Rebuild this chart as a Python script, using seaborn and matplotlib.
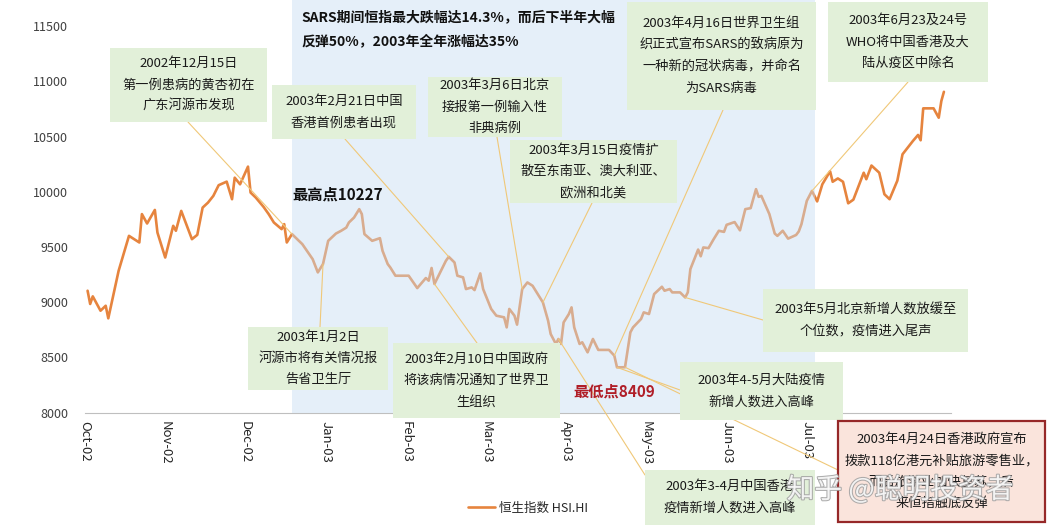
import matplotlib
matplotlib.use("Agg")
import matplotlib.pyplot as plt
import matplotlib.patheffects as pe
from matplotlib.patches import Rectangle, ConnectionPatch
import pandas as pd
import seaborn as sns

# Hang Seng index, Oct 2002 - Aug 2003
dates = [
    "2002-10-02", "2002-10-03", "2002-10-04", "2002-10-07", "2002-10-09", "2002-10-10",
    "2002-10-14", "2002-10-18", "2002-10-22", "2002-10-23", "2002-10-25", "2002-10-28",
    "2002-10-29",
    "2002-11-01", "2002-11-04", "2002-11-05", "2002-11-07", "2002-11-11", "2002-11-13",
    "2002-11-15", "2002-11-17", "2002-11-19", "2002-11-21", "2002-11-24", "2002-11-26",
    "2002-11-27", "2002-11-29",
    "2002-12-02", "2002-12-03", "2002-12-05", "2002-12-08", "2002-12-10", "2002-12-12",
    "2002-12-15", "2002-12-16", "2002-12-17", "2002-12-19", "2002-12-23", "2002-12-27",
    "2002-12-29", "2002-12-31",
    "2003-01-02", "2003-01-05", "2003-01-07", "2003-01-09", "2003-01-10", "2003-01-12",
    "2003-01-14", "2003-01-15", "2003-01-16", "2003-01-19", "2003-01-22", "2003-01-23",
    "2003-01-25", "2003-01-26", "2003-01-28",
    "2003-02-02", "2003-02-05", "2003-02-08", "2003-02-09", "2003-02-10", "2003-02-11",
    "2003-02-13", "2003-02-15", "2003-02-16", "2003-02-18", "2003-02-19", "2003-02-21",
    "2003-02-22", "2003-02-24", "2003-02-25", "2003-02-27", "2003-02-28",
    "2003-03-03", "2003-03-05", "2003-03-08", "2003-03-09", "2003-03-10", "2003-03-12",
    "2003-03-13", "2003-03-15", "2003-03-17", "2003-03-19", "2003-03-21", "2003-03-23",
    "2003-03-25", "2003-03-26", "2003-03-28", "2003-03-29", "2003-03-30", "2003-03-31",
    "2003-04-02", "2003-04-03", "2003-04-04", "2003-04-06", "2003-04-07", "2003-04-09",
    "2003-04-11", "2003-04-13", "2003-04-17", "2003-04-19", "2003-04-20", "2003-04-23",
    "2003-04-25", "2003-04-26", "2003-04-29", "2003-04-30",
    "2003-05-02", "2003-05-04", "2003-05-07", "2003-05-08", "2003-05-10", "2003-05-11",
    "2003-05-14", "2003-05-16", "2003-05-17", "2003-05-18", "2003-05-21", "2003-05-22",
    "2003-05-23", "2003-05-25", "2003-05-27", "2003-05-29", "2003-05-31",
    "2003-06-01", "2003-06-04", "2003-06-06", "2003-06-08", "2003-06-10", "2003-06-12",
    "2003-06-13", "2003-06-14", "2003-06-17", "2003-06-19", "2003-06-20", "2003-06-22",
    "2003-06-24", "2003-06-27", "2003-06-28", "2003-06-29",
    "2003-07-01", "2003-07-03", "2003-07-05", "2003-07-07", "2003-07-10", "2003-07-11",
    "2003-07-13", "2003-07-15", "2003-07-17", "2003-07-19", "2003-07-23", "2003-07-24",
    "2003-07-26", "2003-07-29", "2003-07-31",
    "2003-08-02", "2003-08-05", "2003-08-07", "2003-08-11", "2003-08-13", "2003-08-14",
    "2003-08-15", "2003-08-19", "2003-08-21", "2003-08-22", "2003-08-23",
]
hsi = [
    9103, 8983, 9052, 8922, 8967, 8853, 9284, 9600, 9540, 9797, 9712, 9835, 9630,
    9404, 9691, 9646, 9826, 9570, 9609, 9856, 9901, 9962, 10059, 10091, 9932, 10127, 10067,
    10227, 9992, 9947, 9863, 9797, 9721, 9661, 9706, 9540, 9616, 9525, 9389, 9269, 9345,
    9555, 9621, 9646, 9675, 9721, 9766, 9842, 9797, 9616, 9555, 9579, 9465, 9345, 9314, 9239,
    9239, 9127, 9218, 9194, 9309, 9164, 9269, 9374, 9410, 9359, 9239, 9224, 9118, 9133,
    9109, 9260, 9118,
    8938, 8877, 8862, 8771, 8938, 8877, 8796, 9118, 9178, 9148, 9073, 8997, 8832, 8711,
    8621, 8666, 8621, 8816,
    8892, 8952, 8771, 8621, 8636, 8545, 8666, 8567, 8567, 8515, 8409, 8410, 8726, 8771,
    8847, 8907,
    8892, 9073, 9139, 9103, 9118, 9088, 9088, 9042, 9088, 9299, 9476, 9415, 9495, 9489,
    9570, 9646, 9636,
    9700, 9725, 9650, 9842, 9851, 10023, 9953, 9962, 9797, 9621, 9600, 9646, 9575, 9608,
    9640, 9706,
    9917, 10007, 9912, 10067, 10185, 10090, 10120, 10090, 9895, 9928, 10172, 10113, 10237,
    10172, 9977,
    9932, 10100, 10339, 10459, 10514, 10466, 10755, 10755, 10670, 10821, 10905,
]
# the Aug-03 label sits under the red box in the original, so it is left out
month_labels = ["Oct-02", "Nov-02", "Dec-02", "Jan-03", "Feb-03", "Mar-03",
                "Apr-03", "May-03", "Jun-03", "Jul-03"]
y_ticks = [8000, 8500, 9000, 9500, 10000, 10500, 11000, 11500]
sars_window = ("2002-12-19", "2003-07-04")

# annotation texts, box (left, top, right, bottom in px), leader start px, anchor date
notes = [
    ("2002年12月15日\n第一例患病的黄杏初在\n广东河源市发现",
     (110, 48, 267, 122), (188, 122), "2002-12-19"),
    ("2003年2月21日中国\n香港首例患者出现",
     (272, 85, 416, 139), (345, 139), "2003-02-16"),
    ("2003年3月6日北京\n接报第一例输入性\n非典病例",
     (428, 77, 562, 137), (497, 137), "2003-03-15"),
    ("2003年3月15日疫情扩\n散至东南亚、澳大利亚、\n欧洲和北美",
     (510, 140, 677, 203), (592, 203), "2003-03-23"),
    ("2003年4月16日世界卫生组\n织正式宣布SARS的致病原为\n一种新的冠状病毒，并命名\n为SARS病毒",
     (627, 2, 816, 110), (723, 110), "2003-04-19"),
    ("2003年6月23及24号\nWHO将中国香港及大\n陆从疫区中除名",
     (828, 2, 988, 82), (908, 82), "2003-07-03"),
    ("2003年1月2日\n河源市将有关情况报\n告省卫生厅",
     (248, 327, 388, 390), (320, 327), "2002-12-31"),
    ("2003年2月10日中国政府\n将该病情况通知了世界卫\n生组织",
     (393, 343, 560, 418), (477, 343), "2003-02-11"),
    ("2003年5月北京新增人数放缓至\n个位数，疫情进入尾声",
     (763, 289, 968, 352), (763, 320), "2003-05-16"),
    ("2003年4-5月大陆疫情\n新增人数进入高峰",
     (680, 362, 843, 420), (680, 390), "2003-04-20"),
    ("2003年3-4月中国香港\n疫情新增人数进入高峰",
     (645, 470, 815, 525), (645, 475), "2003-03-29"),
]
red_note = ("2003年4月24日香港政府宣布\n拨款118亿港元补贴旅游零售业，\n而后旅游业加快复苏，后\n来恒指触底反弹",
            (838, 421, 1045, 522), (838, 470), "2003-04-23")

W, H = 1054, 531
LINE_C = "#E6843E"
GREEN = "#E2F0D9"
LEADER = "#F0C878"

sns.set_style("white")
plt.rcParams["font.family"] = ["Noto Sans CJK SC", "DejaVu Sans"]


def month_pos(d):
    # evenly spaced months, like the category axis of the original
    d = pd.DatetimeIndex(pd.to_datetime(d if isinstance(d, (list, pd.Series)) else [d]))
    pos = (d.year - 2002) * 12 + d.month - 10 + (d.day - 1) / d.days_in_month
    return pos.to_numpy() if len(pos) > 1 else float(pos[0])


df = pd.DataFrame({"date": pd.to_datetime(dates), "hsi": hsi})
df["pos"] = month_pos(df["date"])
lookup = dict(zip(df["date"], df["hsi"]))

fig = plt.figure(figsize=(W / 100, H / 100), dpi=100)
ax = fig.add_axes([85 / W, (H - 412.5) / H, 866 / W, 412.5 / H])

sns.lineplot(data=df, x="pos", y="hsi", color=LINE_C, linewidth=1.9,
             label="恒生指数 HSI.HI", ax=ax, zorder=2)

# translucent shading drawn over the line, which mutes it inside the window
ax.axvspan(month_pos(sars_window[0]), month_pos(sars_window[1]),
           color="#C7DDF3", alpha=0.45, lw=0, zorder=3)

ax.set_xlim(0, 866 / 80.2)
ax.set_ylim(8000, 8000 + 412.5 / 0.1104)
ax.set_xticks(range(len(month_labels)))
ax.set_xticklabels(month_labels, rotation=-90, fontsize=9.5, color="#262626")
ax.set_yticks(y_ticks)
ax.set_yticklabels([str(v) for v in y_ticks], fontsize=9, color="#404040")
ax.tick_params(axis="y", length=0, pad=12)
ax.tick_params(axis="x", length=3, width=0.8, color="#BFBFBF", pad=3)
ax.set_xlabel("")
ax.set_ylabel("")
for s in ["top", "right", "left"]:
    ax.spines[s].set_visible(False)
ax.spines["bottom"].set_color("#BFBFBF")
ax.spines["bottom"].set_linewidth(0.8)

leg = ax.legend(loc="center", bbox_to_anchor=(528 / W, 1 - 508 / H),
                bbox_transform=fig.transFigure, frameon=False, fontsize=9,
                handlelength=2.2, handletextpad=0.3)


def draw_note(text, box, start, anchor, fc, ec=None, lw=0):
    x0, y0, x1, y1 = box
    cp = ConnectionPatch(xyA=(start[0], H - start[1]), coordsA="figure pixels",
                         xyB=(month_pos(anchor), lookup[pd.Timestamp(anchor)]),
                         coordsB="data", axesB=ax, color=LEADER, lw=0.8, zorder=1)
    fig.add_artist(cp)
    fig.add_artist(Rectangle((x0 / W, 1 - y1 / H), (x1 - x0) / W, (y1 - y0) / H,
                             transform=fig.transFigure, fc=fc,
                             ec=ec if ec else "none", lw=lw, zorder=2))
    fig.text((x0 + x1) / 2 / W, 1 - (y0 + y1) / 2 / H, text, ha="center",
             va="center", ma="center", fontsize=9.5, color="#1A1A1A",
             linespacing=1.85, zorder=3)


for text, box, start, anchor in notes:
    draw_note(text, box, start, anchor, GREEN)
draw_note(*red_note, fc="#FAE4DC", ec="#962828", lw=1.6)

fig.text(301 / W, 1 - 29.5 / H,
         "SARS期间恒指最大跌幅达14.3%，而后下半年大幅\n反弹50%，2003年全年涨幅达35%",
         ha="left", va="center", ma="left", fontsize=10, fontweight="bold",
         color="#111111", linespacing=1.9, zorder=3)
fig.text(292 / W, 1 - 195 / H, "最高点10227", ha="left", va="center",
         fontsize=11, fontweight="bold", color="#111111", zorder=3)
fig.text(573 / W, 1 - 392 / H, "最低点8409", ha="left", va="center",
         fontsize=11, fontweight="bold", color="#B01E28", zorder=3)

# watermark, lying over the red box as in the original
fig.text(900 / W, 1 - 490 / H, "知乎 @聪明投资者", ha="center", va="center",
         fontsize=20, color="white", alpha=0.85, zorder=4,
         path_effects=[pe.withStroke(linewidth=1.5, foreground="#A0A0A0")])

fig.savefig("out.png", dpi=100)
plt.close(fig)
